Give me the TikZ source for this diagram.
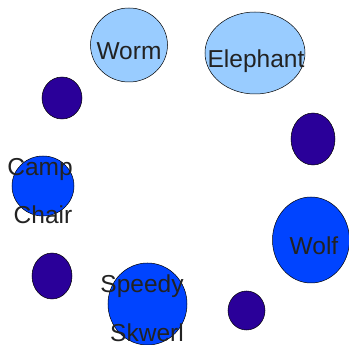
\documentclass[tikz,border=0pt]{standalone}
\usepackage{fontspec}
\setmainfont{Liberation Sans}
\usepackage{xcolor}
\usetikzlibrary{shapes.geometric, positioning}

\definecolor{paleblue}{HTML}{99CCFF}
\definecolor{brightblue}{HTML}{0044FF}
\definecolor{deepviolet}{HTML}{2A0099}
\definecolor{inkgray}{HTML}{222222}

\begin{document}
\begin{tikzpicture}[
    x=1pt, y=-1pt,
    blob/.style={draw, ellipse, inner sep=0pt, line width=0.5pt},
    pale/.style={blob, fill=paleblue},
    bright/.style={blob, fill=brightblue},
    dot/.style={blob, fill=deepviolet},
    lbl/.style={anchor=base, inner sep=0pt, text=inkgray, font=\fontsize{24.5}{28}\selectfont}
]
\useasboundingbox (0,0) rectangle (349,345);

% Animals
\node[pale, minimum width=77pt, minimum height=74pt] (worm) at (129,45) {};
\node[pale, minimum width=100pt, minimum height=82pt] (elephant) at (255,53) {};
\node[bright, minimum width=62pt, minimum height=60pt] (camp) at (43,186) {};
\node[bright, minimum width=77pt, minimum height=86pt] (wolf) at (311,240) {};
\node[bright, minimum width=79pt, minimum height=82pt] (skwerl) at (147.5,304) {};

% Small dots
\node[dot, minimum width=40pt, minimum height=42pt] (dotnw) at (62,98) {};
\node[dot, minimum width=44pt, minimum height=52pt] (dotne) at (313,139) {};
\node[dot, minimum width=40pt, minimum height=46pt] (dotsw) at (52,276) {};
\node[dot, minimum width=37pt, minimum height=39pt] (dotse) at (246.5,310.5) {};

% Labels
\node[lbl] (wormtxt) at (129,60) {Worm};
\node[lbl] (elephanttxt) at (256,68) {Elephant};
\node[lbl] (camptxt) at (40,176) {Camp};
\node[lbl] (chairtxt) at (43,224) {Chair};
\node[lbl] (wolftxt) at (314,255) {Wolf};
\node[lbl] (speedytxt) at (142,293) {Speedy};
\node[lbl] (skwerltxt) at (147,342) {Skwerl};

\end{tikzpicture}
\end{document}
